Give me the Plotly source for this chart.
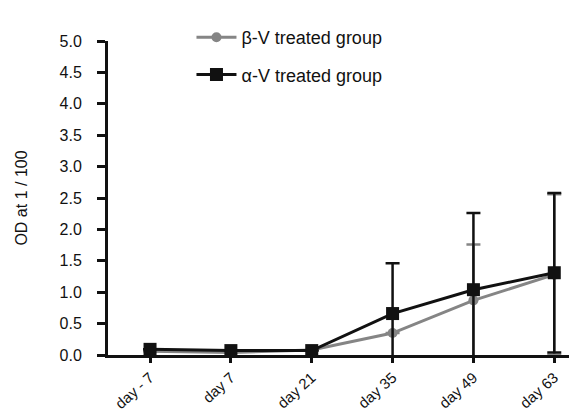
import plotly.graph_objects as go

days = ["day - 7", "day 7", "day 21", "day 35", "day 49", "day 63"]
beta_vals = [0.06, 0.04, 0.08, 0.35, 0.87, 1.28]
beta_err = [0.0, 0.0, 0.0, 0.0, 0.89, 1.28]
alpha_vals = [0.09, 0.07, 0.07, 0.66, 1.04, 1.31]
alpha_err = [0.0, 0.0, 0.0, 0.80, 1.22, 1.27]
y_ticks = [0, 0.5, 1, 1.5, 2, 2.5, 3, 3.5, 4, 4.5, 5]

FONT = "Liberation Sans, Arial, sans-serif"
xi = list(range(len(days)))

fig = go.Figure()
fig.add_trace(go.Scatter(
    x=xi, y=beta_vals, name="β-V treated group", mode="lines+markers",
    line=dict(color="#858585", width=3),
    marker=dict(symbol="circle", size=10, color="#858585"),
    error_y=dict(type="data", array=beta_err, visible=True, color="#858585", thickness=2.5, width=7),
    legendgroup="b",
))
fig.add_trace(go.Scatter(
    x=xi, y=alpha_vals, name="α-V treated group", mode="lines+markers",
    line=dict(color="#111111", width=3),
    marker=dict(symbol="square", size=13, color="#111111"),
    error_y=dict(type="data", array=alpha_err, visible=True, color="#111111", thickness=2.5, width=7),
    legendgroup="a",
))

fig.update_layout(
    width=577, height=412,
    margin=dict(l=100, r=0, t=33, b=65),
    plot_bgcolor="white", paper_bgcolor="white",
    font=dict(family=FONT, size=16, color="#111111"),
    legend=dict(x=0.175, y=1.07, xanchor="left", yanchor="top",
                font=dict(family=FONT, size=18), tracegroupgap=11,
                bgcolor="rgba(0,0,0,0)", itemwidth=40),
    xaxis=dict(range=[-0.52, 5.38], tickmode="array", tickvals=xi, ticktext=days,
               tickangle=-42, showline=True, linecolor="#111111", linewidth=3,
               ticks="outside", ticklen=5, tickwidth=3, tickcolor="#111111",
               showgrid=False, zeroline=False, tickfont=dict(size=15)),
    yaxis=dict(range=[0, 5], tickmode="array", tickvals=y_ticks,
               ticktext=[f"{v:.1f}" for v in y_ticks],
               showline=True, linecolor="#111111", linewidth=3,
               ticks="outside", ticklen=8, tickwidth=3, tickcolor="#111111",
               ticklabelstandoff=12,
               showgrid=False, zeroline=False, tickfont=dict(size=16),
               title=dict(text="OD at 1 / 100", font=dict(size=16), standoff=28)),
)

fig.write_html("out.html")
